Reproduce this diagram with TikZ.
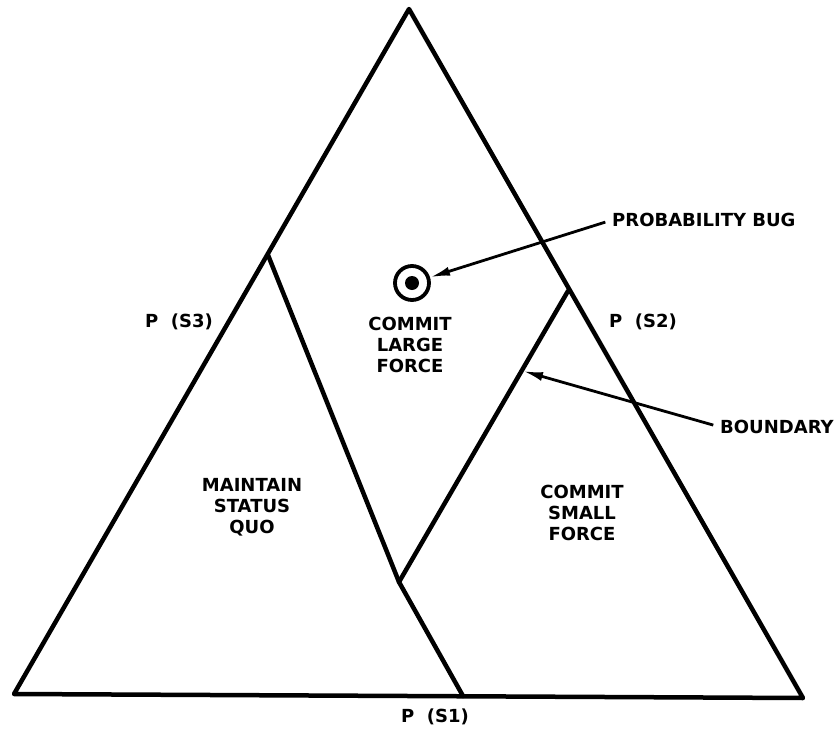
\documentclass[tikz,border=0pt]{standalone}
\usepackage{fontspec}
\setmainfont{DejaVu Sans}
\usetikzlibrary{arrows.meta, positioning}

\begin{document}
\begin{tikzpicture}[x=1pt, y=-1pt,
  edge/.style={line width=4.5pt, line join=round, line cap=round},
  arr/.style={-{Latex[length=20pt, width=9pt]}, line width=2.8pt, shorten <=7pt},
  lbl/.style={font=\bfseries\fontsize{18}{21}\selectfont, align=center, inner sep=0pt}
]
\useasboundingbox (0,0) rectangle (839,731);
\coordinate (top) at (409,9);
\coordinate (bl) at (14,694);
\coordinate (br) at (803,698);
\coordinate (l) at (268,255);
\coordinate (r) at (568,291);
\coordinate (m) at (399,582);
\coordinate (b) at (463,696);
\coordinate (hit) at (523,371);

\draw[edge] (top) -- (br) -- (bl) -- cycle;
\draw[edge] (l) -- (m) -- (b);
\draw[edge] (m) -- (r);

\node[draw, circle, line width=3.8pt, minimum size=34pt, inner sep=0pt] (bug) at (412,283) {};
\fill (bug.center) circle (7pt);

\node[lbl] (large) at (410,345) {COMMIT\\LARGE\\FORCE};
\node[lbl] (quo)   at (252,507) {MAINTAIN\\STATUS\\QUO};
\node[lbl] (small) at (582,513) {COMMIT\\SMALL\\FORCE};
\node[lbl] (s3) at (179,322) {P~~(S3)};
\node[lbl] (s2) at (643,322) {P~~(S2)};
\node[lbl] (s1) at (435,717) {P~~(S1)};
\node[lbl, anchor=west] (pb) at (612,220) {PROBABILITY BUG};
\node[lbl, anchor=west] (bd) at (720,427) {BOUNDARY};

\draw[arr] (pb.west) -- (bug);
\draw[arr] (bd.west) -- (hit);
\end{tikzpicture}
\end{document}
